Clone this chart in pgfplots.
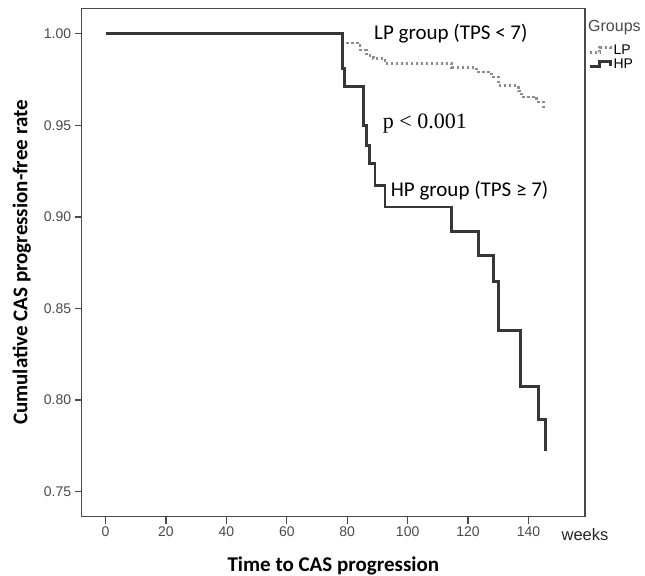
\documentclass[border=0pt]{standalone}
\usepackage{fontspec}
\setmainfont{Carlito}
\newfontfamily\arial{Liberation Sans}
\newfontfamily\timesf{Liberation Serif}
\usepackage{pgfplots}
\pgfplotsset{compat=1.18}
\definecolor{framec}{HTML}{4A4A4A}
\definecolor{hpc}{HTML}{363636}
\definecolor{lpc}{HTML}{8C8C8C}

\begin{document}
\begin{tikzpicture}
\useasboundingbox (-81.7bp,-59.3bp) rectangle (563.3bp,516.7bp);
\begin{axis}[
    at={(0,0)}, anchor=south west,
    scale only axis,
    width=503.3bp, height=508.4bp,
    xmin=-7.9, xmax=158.7,
    ymin=0.7364, ymax=1.0138,
    clip=false,
    xtick={0,20,40,60,80,100,120,140},
    xticklabels={0,20,40,60,80,100,120,140},
    ytick={0.75,0.80,0.85,0.90,0.95,1.00},
    yticklabels={0.75,0.80,0.85,0.90,0.95,1.00},
    tick pos=left, tick align=outside,
    major tick length=7bp,
    axis line style={framec, line width=1.3bp},
    tick style={framec, line width=1.3bp},
    tick label style={font=\arial\fontsize{14bp}{14bp}\selectfont, text=framec},
    xlabel={\bfseries\fontsize{21bp}{21bp}\selectfont Time to CAS progression},
    ylabel={\bfseries\fontsize{21bp}{21bp}\selectfont Cumulative CAS progression-free rate},
    x label style={at={(axis description cs:0.5,-0.0964)}, anchor=center},
    y label style={at={(axis description cs:-0.1193,0.5)}, anchor=center, rotate=0},
    legend style={at={(axis description cs:1,1)}, anchor=north west,
        xshift=3bp, yshift=-35bp, draw=none, fill=none, inner sep=0pt,
        font=\arial\fontsize{14bp}{14bp}\selectfont, row sep=0bp,
        nodes={inner sep=1.5bp}},
    legend cell align=left,
    legend image code/.code={\draw[#1] (0bp,-2bp) -- (10bp,-2bp) -- (10bp,3bp) -- (21bp,3bp) -- (21bp,-1bp);},
]
% LP group (dotted)
\addplot[lpc, line width=2.6bp, dash pattern=on 2.6bp off 2.4bp, const plot] coordinates {
(0,1.0) (78.6,0.9949) (84.2,0.991) (86.4,0.988) (88.6,0.9864) (92.5,0.9836)
(114.6,0.9815) (122.8,0.979) (127.8,0.9763) (130.0,0.9718) (136.6,0.9687)
(137.7,0.9654) (142.7,0.9627) (144.9,0.959) (145.5,0.959)
};
% HP group (solid)
\addplot[hpc, line width=2.9bp, const plot] coordinates {
(0,1.0) (78.5,0.981) (79.1,0.9713) (85.3,0.950) (86.4,0.939) (87.5,0.929)
(89.2,0.917) (92.5,0.9054) (114.6,0.8918) (123.4,0.8787) (128.3,0.8649)
(130.2,0.8382) (137.2,0.8073) (143.2,0.7895) (145.5,0.7725)
};
\legend{LP, HP}
\node[anchor=base, font=\fontsize{21bp}{21bp}\selectfont] at (axis cs:114.3,0.9966) {LP group (TPS < 7)};
\node[anchor=base, font=\fontsize{21bp}{21bp}\selectfont] at (axis cs:120.5,0.9109) {HP group (TPS ≥ 7)};
\node[anchor=base, font=\timesf\fontsize{22bp}{22bp}\selectfont] at (axis cs:105.7,0.9482) {p < 0.001};
\node[anchor=base west, font=\arial\fontsize{16bp}{16bp}\selectfont, text=framec, inner sep=0pt] at ([xshift=3bp,yshift=-23bp]rel axis cs:1,1) {Groups};
\node[anchor=center, font=\arial\fontsize{16.5bp}{16.5bp}\selectfont, text=black!85, inner sep=0pt] at ([yshift=-18.3bp]rel axis cs:1,0) {weeks};
\end{axis}
\end{tikzpicture}
\end{document}
